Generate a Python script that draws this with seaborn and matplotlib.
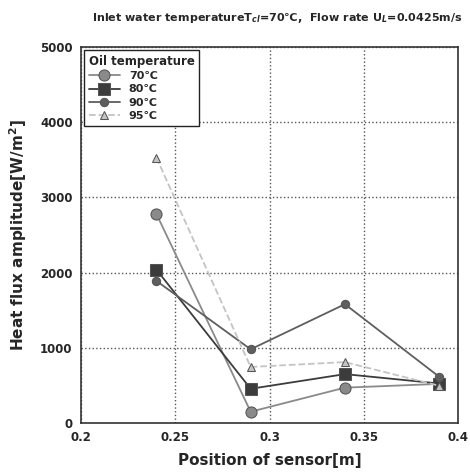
import matplotlib
matplotlib.use("Agg")
import matplotlib.pyplot as plt
import seaborn as sns
import pandas as pd

positions = [0.24, 0.29, 0.34, 0.39]
flux_70 = [2780, 150, 470, 520]
flux_80 = [2040, 455, 650, 525]
flux_90 = [1890, 980, 1580, 615]
flux_95 = [3530, 745, 810, 495]
labels = ["70℃", "80℃", "90℃", "95℃"]

sns.set_theme(style="white")
plt.rcParams['font.family'] = ['DejaVu Sans', 'Noto Sans CJK JP']
plt.rcParams['font.weight'] = 'bold'

rows = []
for lab, vals in zip(labels, [flux_70, flux_80, flux_90, flux_95]):
    for p, v in zip(positions, vals):
        rows.append({"pos": p, "flux": v, "oil": lab})
df = pd.DataFrame(rows)

fig = plt.figure(figsize=(4.70, 4.75), dpi=100)
ax = fig.add_axes([81/470, 1-423/475, 377/470, 376/475])

palette = {"70℃": "#8a8a8a", "80℃": "#3c3c3c", "90℃": "#5e5e5e", "95℃": "#c4c4c4"}
markers = {"70℃": "o", "80℃": "s", "90℃": "o", "95℃": "^"}
sizes = {"70℃": 8, "80℃": 9, "90℃": 6, "95℃": 6}
styles = {"70℃": "-", "80℃": "-", "90℃": "-", "95℃": "--"}
for lab in labels:
    sub = df[df.oil == lab]
    sns.lineplot(data=sub, x="pos", y="flux", ax=ax, color=palette[lab],
                 marker=markers[lab], markersize=sizes[lab], linestyle=styles[lab],
                 linewidth=1.3, markeredgecolor="#555555", label=lab)

ax.set_xlim(0.2, 0.4)
ax.set_ylim(0, 5000)
ax.set_xticks([0.2, 0.25, 0.3, 0.35, 0.4])
ax.set_xticklabels(["0.2", "0.25", "0.3", "0.35", "0.4"])
ax.set_yticks([0, 1000, 2000, 3000, 4000, 5000])
ax.grid(True, linestyle=":", color="#555555", linewidth=1.0)
for s in ax.spines.values():
    s.set_color("#333333")
    s.set_linewidth(1.2)
ax.tick_params(labelsize=8.5, length=0, pad=6)
for t in ax.get_xticklabels() + ax.get_yticklabels():
    t.set_fontweight('bold')
ax.set_xlabel("Position of sensor[m]", fontsize=11, fontweight='bold', labelpad=6)
ax.set_ylabel("Heat flux amplitude[W/m$^{2}$]", fontsize=11, fontweight='bold', labelpad=8)
fig.text(0.985, 0.962, "Inlet water temperatureT$_{cl}$=70℃,  Flow rate U$_{L}$=0.0425m/s",
         ha="right", va="center", fontsize=8, fontweight='bold')

leg = ax.legend(title="Oil temperature", loc="upper left", fontsize=8, title_fontsize=8.5,
                frameon=True, fancybox=False, edgecolor="#222222", borderaxespad=0.3,
                handlelength=2.8, labelspacing=0.3, framealpha=1)
leg.get_title().set_fontweight('bold')
leg._legend_box.align = "left"

fig.savefig("out.png", dpi=100)
